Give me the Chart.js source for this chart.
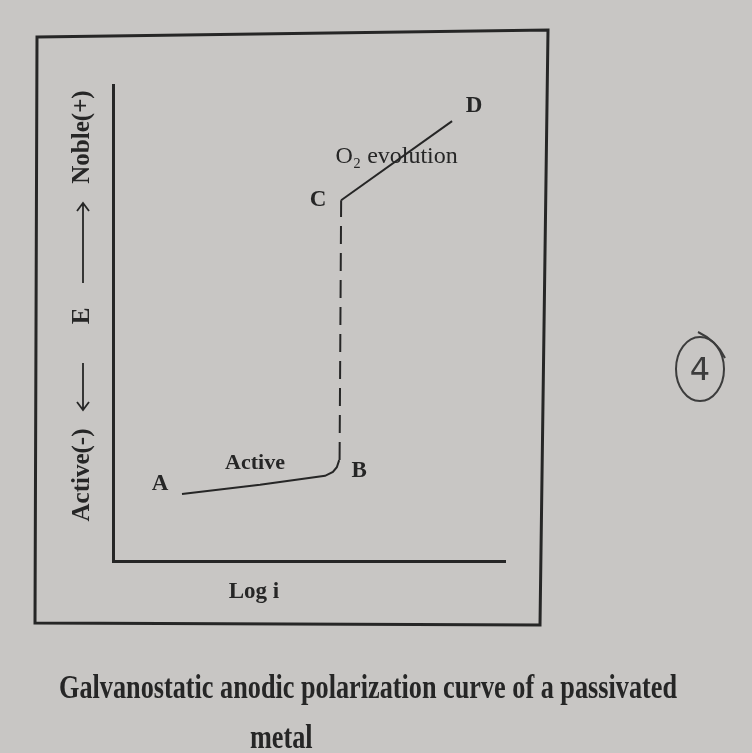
<!DOCTYPE html>
<html>
<head>
<meta charset="utf-8">
<script src="https://cdn.jsdelivr.net/npm/chart.js@4"></script>
<style>
  html, body { margin: 0; padding: 0; background: #c8c6c4; }
  #wrap { width: 752px; height: 753px; position: relative; }
</style>
</head>
<body>
<div id="wrap"><canvas id="chart"></canvas></div>
<script>
// data (x = log i, y = E, both 0..100 arbitrary units)
const activeLogI = [17.6, 37.5, 54.1, 56.1, 57.1, 57.7];
const activeE = [14.1, 16.0, 17.9, 18.7, 19.7, 21.2];
const passiveLogI = [57.8, 58.2];
const passiveE = [21.2, 75.8];
const o2LogI = [58.2, 86.5];
const o2E = [75.8, 92.4];

const pointNames = ['A', 'B', 'C', 'D'];
const regionNames = ['Active', 'O\u2082 evolution'];
const xTitle = 'Log i';
const yTitleParts = ['Active(-)', 'E', 'Noble(+)'];
const caption = ['Galvanostatic anodic polarization curve of a passivated', 'metal'];

const INK = '#262626';
const SERIF = '"Liberation Serif", "DejaVu Serif", serif';

const toPoints = (xs, ys) => xs.map((x, i) => ({ x, y: ys[i] }));

const annotations = {
    id: 'annotations',
    afterDraw(chart) {
        const { ctx, chartArea: area, scales: { x, y } } = chart;
        const px = (v) => x.getPixelForValue(v);
        const py = (v) => y.getPixelForValue(v);
        ctx.save();
        ctx.fillStyle = INK;
        ctx.strokeStyle = INK;
        ctx.textAlign = 'center';
        ctx.textBaseline = 'middle';

        // outer frame of the figure (slightly skewed like the photo)
        ctx.lineWidth = 3;
        ctx.beginPath();
        ctx.moveTo(area.left - 76, area.top - 48);
        ctx.lineTo(area.right + 43, area.top - 55);
        ctx.lineTo(area.right + 35, area.bottom + 64);
        ctx.lineTo(area.left - 78, area.bottom + 62);
        ctx.closePath();
        ctx.stroke();

        // point letters
        ctx.font = 'bold 23px ' + SERIF;
        const last = activeLogI.length - 1;
        const marks = [
            [activeLogI[0], activeE[0], -22, -10],
            [activeLogI[last], activeE[last], 20, 11],
            [o2LogI[0], o2E[0], -23, 0],
            [o2LogI[1], o2E[1], 22, -15]
        ];
        marks.forEach(([mx, my, dx, dy], i) => {
            ctx.fillText(pointNames[i], px(mx) + dx, py(my) + dy);
        });

        // region labels
        ctx.font = 'bold 22px ' + SERIF;
        ctx.fillText(regionNames[0], px(activeLogI[1]) - 5, py(activeE[1]) - 22);
        ctx.font = '24px ' + SERIF;
        const midX = (px(o2LogI[0]) + px(o2LogI[1])) / 2;
        const midY = (py(o2E[0]) + py(o2E[1])) / 2;
        ctx.fillText(regionNames[1], midX, midY - 4);

        // x title
        ctx.font = 'bold 23px ' + SERIF;
        ctx.fillText(xTitle, area.left + 141, area.bottom + 31);

        // y title, rotated, with arrows
        ctx.save();
        ctx.translate(area.left - 30, 0);
        ctx.rotate(-Math.PI / 2);
        ctx.font = 'bold 25px ' + SERIF;
        ctx.fillText(yTitleParts[0], -475, 0);
        ctx.fillText(yTitleParts[1], -316, 0);
        ctx.fillText(yTitleParts[2], -137, 0);
        ctx.lineWidth = 1.8;
        const arrow = (from, to) => {
            const d = to > from ? 1 : -1;
            ctx.beginPath();
            ctx.moveTo(-from, 0);
            ctx.lineTo(-to, 0);
            ctx.moveTo(-to + d * 8, -6);
            ctx.lineTo(-to, 0);
            ctx.lineTo(-to + d * 8, 6);
            ctx.stroke();
        };
        arrow(363, 410);
        arrow(283, 203);
        ctx.restore();

        // caption under the figure, condensed serif
        ctx.font = 'bold 33px ' + SERIF;
        const w = ctx.measureText(caption[0]).width;
        const sx = 618 / w;
        ctx.save();
        ctx.translate(area.left - 54, area.bottom + 128);
        ctx.scale(sx, 1);
        ctx.textAlign = 'left';
        ctx.fillText(caption[0], 0, 0);
        ctx.fillText(caption[1], (250 - (area.left - 54)) / sx, 50);
        ctx.restore();

        // handwritten page mark
        ctx.strokeStyle = '#3c3c3c';
        ctx.lineWidth = 2;
        ctx.beginPath();
        ctx.ellipse(area.right + 195, area.top + 284, 24, 32, 0, 0, Math.PI * 2);
        ctx.stroke();
        ctx.beginPath();
        ctx.moveTo(area.right + 193, area.top + 247);
        ctx.quadraticCurveTo(area.right + 212, area.top + 256, area.right + 220, area.top + 273);
        ctx.stroke();
        ctx.fillStyle = '#3c3c3c';
        ctx.font = '32px "DejaVu Sans", sans-serif';
        ctx.fillText('4', area.right + 195, area.top + 287);
        ctx.restore();
    }
};

new Chart(document.getElementById('chart'), {
    type: 'line',
    data: {
        datasets: [
            { data: toPoints(activeLogI, activeE), borderWidth: 2 },
            { data: toPoints(passiveLogI, passiveE), borderWidth: 2, borderDash: [18, 9] },
            { data: toPoints(o2LogI, o2E), borderWidth: 2 }
        ].map(ds => ({ ...ds, borderColor: INK, pointRadius: 0, tension: 0, fill: false }))
    },
    options: {
        responsive: true,
        maintainAspectRatio: false,
        animation: false,
        layout: { padding: { left: 113, top: 85, right: 247, bottom: 192 } },
        plugins: { legend: { display: false }, tooltip: { enabled: false } },
        scales: {
            x: {
                type: 'linear', min: 0, max: 100,
                grid: { display: false, drawTicks: false },
                ticks: { display: false },
                border: { display: true, color: INK, width: 3 }
            },
            y: {
                type: 'linear', min: 0, max: 100,
                grid: { display: false, drawTicks: false },
                ticks: { display: false },
                border: { display: true, color: INK, width: 3 }
            }
        }
    },
    plugins: [annotations]
});
</script>
</body>
</html>
